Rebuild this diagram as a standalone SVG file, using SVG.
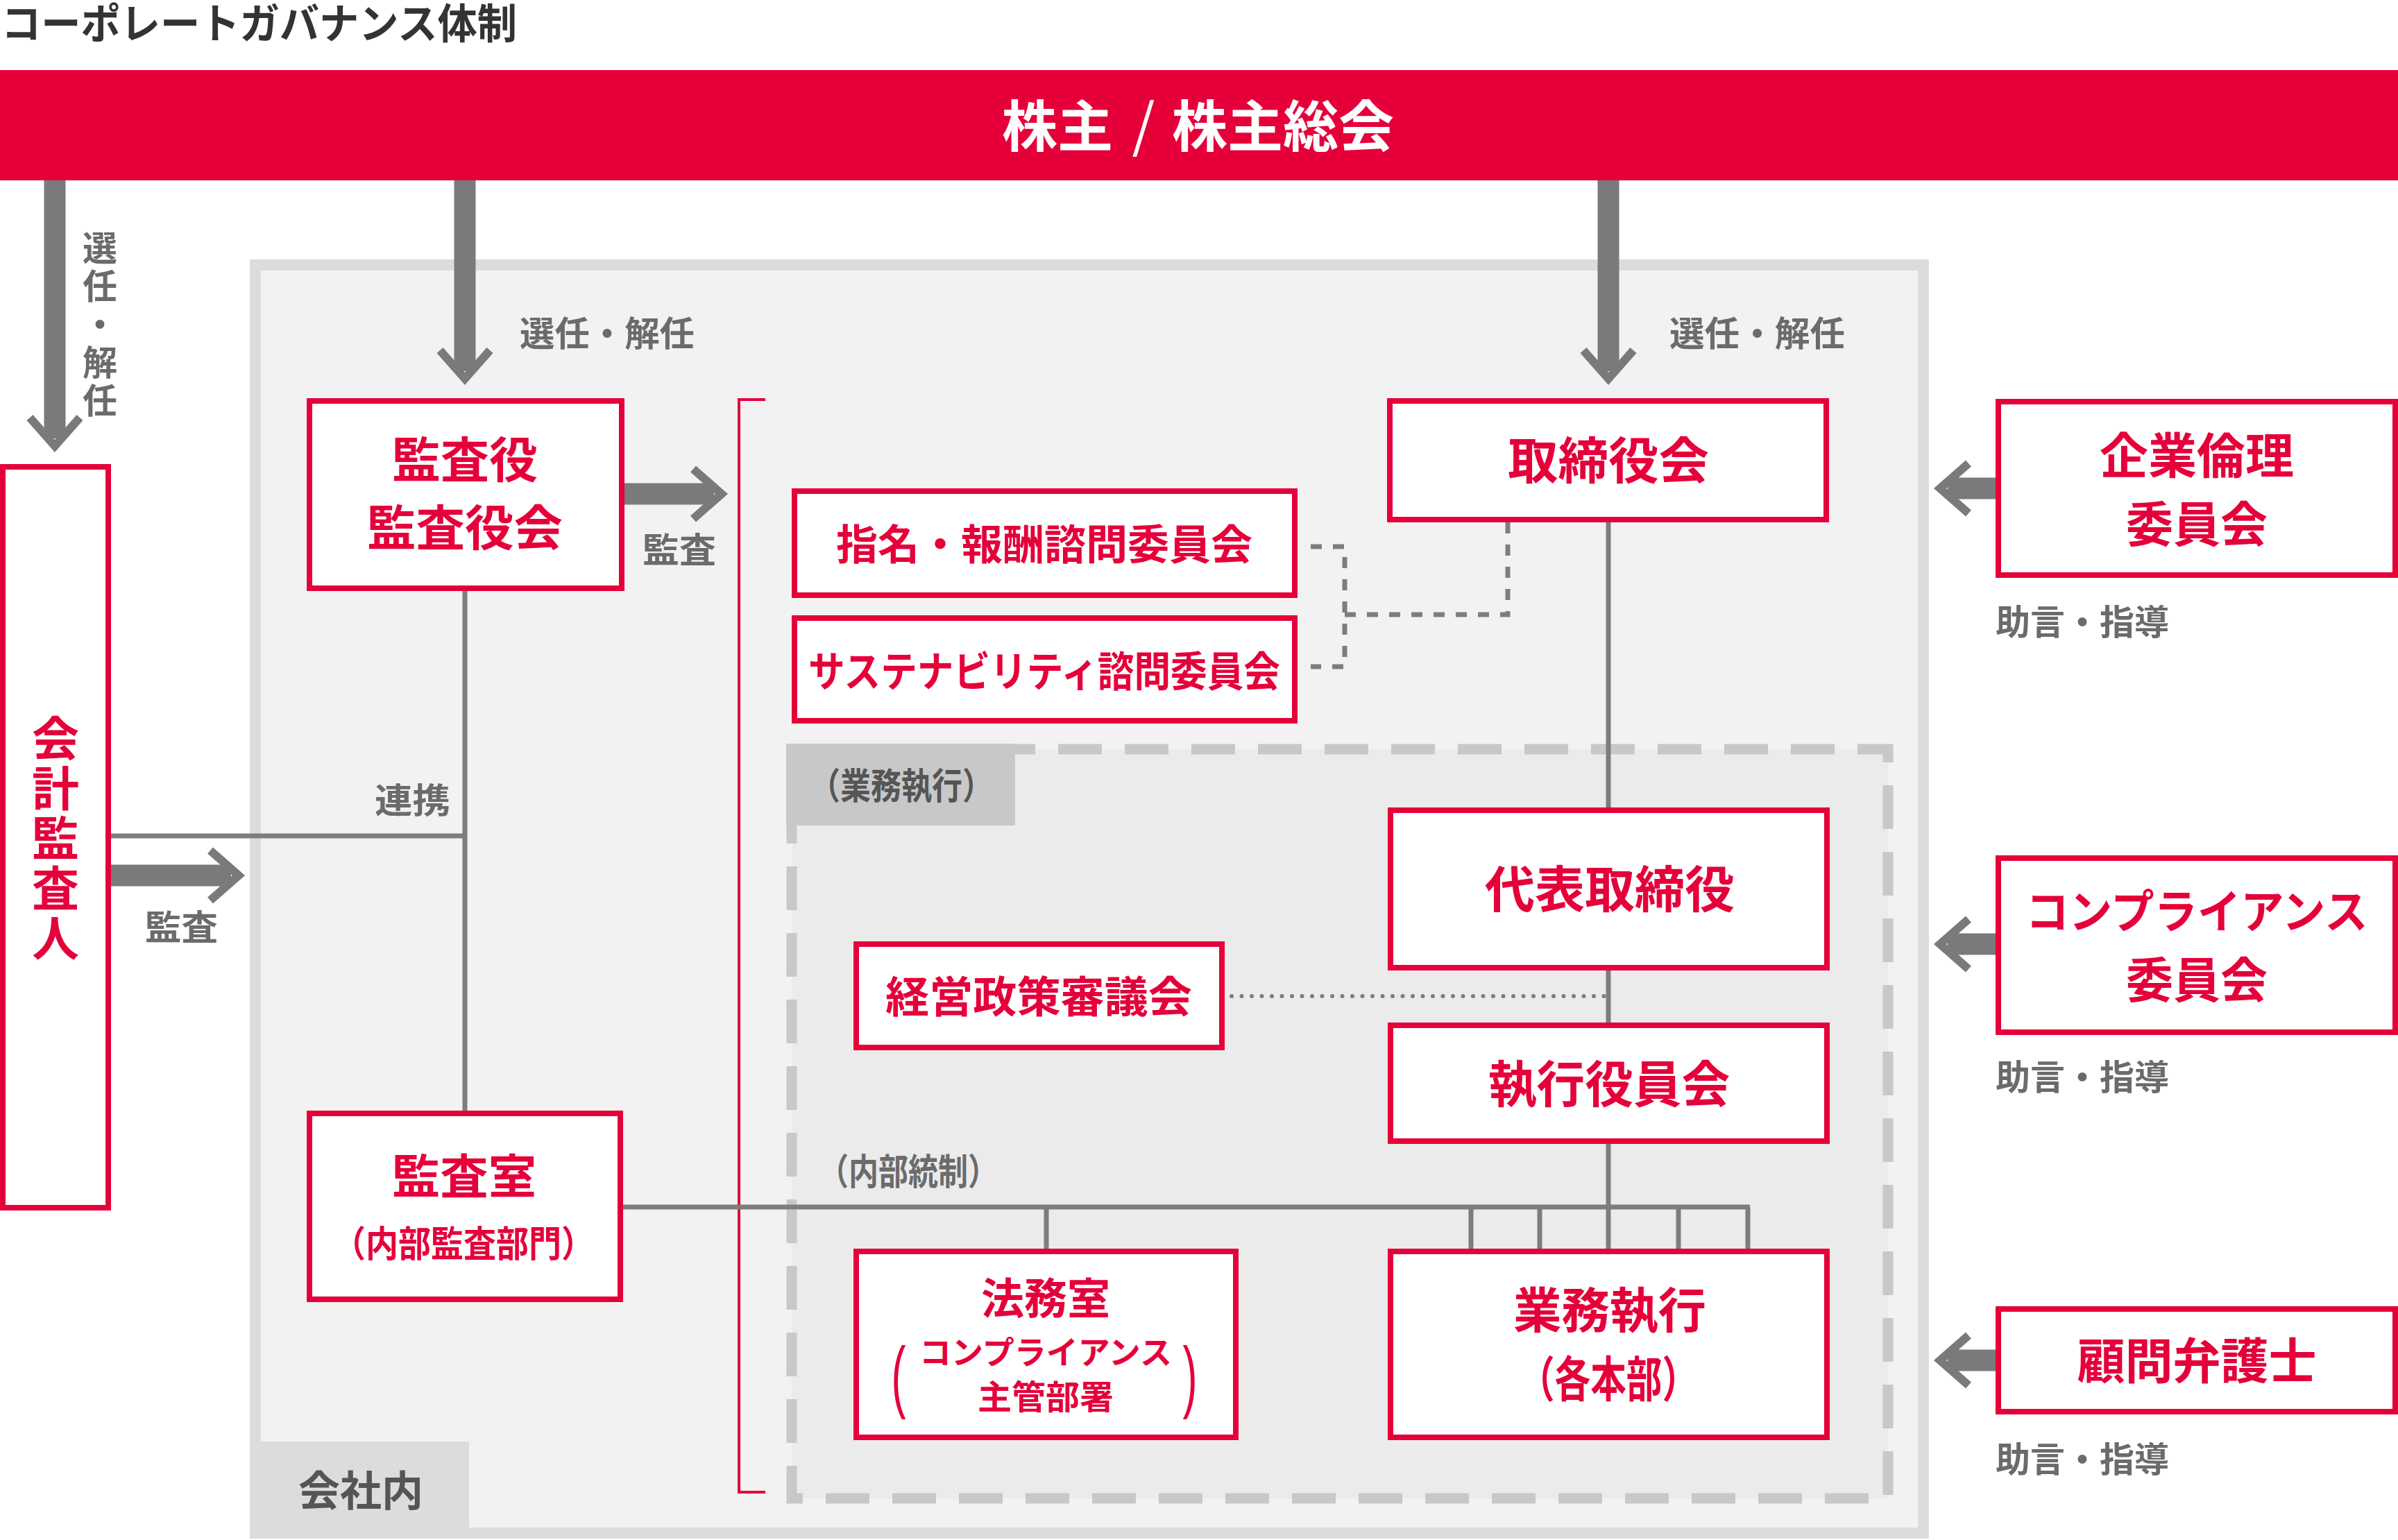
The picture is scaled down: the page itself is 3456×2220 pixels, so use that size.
<svg xmlns="http://www.w3.org/2000/svg" width="3456" height="2220" viewBox="0 0 3456 2220">
<style>
text{font-family:"Noto Sans CJK JP","Noto Sans",sans-serif;}
.node rect{fill:#fff;stroke:#e5003a;stroke-width:8;}
.rt{fill:#e5003a;font-weight:700;text-anchor:middle;}
.gl{fill:#6b6b6b;font-weight:700;font-size:50px;}
.vt{writing-mode:vertical-rl;text-anchor:start;}
.ln{stroke:#7d7d7d;stroke-width:7;fill:none;}
.sh{stroke:#7a7a7a;stroke-width:31;fill:none;}
.hd{stroke:#7a7a7a;stroke-width:12;fill:none;stroke-linejoin:miter;stroke-miterlimit:10;}
.dash{stroke:#7d7d7d;stroke-width:7;fill:none;stroke-dasharray:16 16;}
.par{font-family:"Liberation Sans",sans-serif;font-weight:400;font-size:115px;fill:#e5003a;text-anchor:middle;}
</style>
<rect width="3456" height="2220" fill="#fff"/>
<text x="2" y="56" font-size="60" font-weight="700" fill="#333" textLength="743" lengthAdjust="spacingAndGlyphs">コーポレートガバナンス体制</text>

<g id="shareholders">
<rect x="0" y="101" width="3456" height="159" fill="#e5003a"/>
<text x="1444" y="211" font-size="80" font-weight="700" fill="#fff" textLength="160" lengthAdjust="spacingAndGlyphs">株主</text>
<text x="1648" y="211" font-size="84" font-weight="400" fill="#fff" text-anchor="middle">/</text>
<text x="1689" y="211" font-size="80" font-weight="700" fill="#fff" textLength="320" lengthAdjust="spacingAndGlyphs">株主総会</text>
</g>

<g id="company">
<rect x="368" y="382" width="2404" height="1828" fill="#f2f2f2" stroke="#dcdcdc" stroke-width="16"/>
<rect x="376" y="2078" width="300" height="132" fill="#dcdcdc"/>
<text x="430" y="2171" font-size="60" font-weight="700" fill="#555" textLength="180" lengthAdjust="spacingAndGlyphs">会社内</text>
</g>

<g id="execution-area">
<rect x="1141" y="1080" width="1580" height="1080" fill="#ebebeb" stroke="#c8c8c8" stroke-width="15" stroke-dasharray="63 33"/>
<rect x="1133" y="1072" width="330" height="118" fill="#c8c8c8"/>
<text x="1167" y="1152" font-size="52" font-weight="700" fill="#555" textLength="264" lengthAdjust="spacingAndGlyphs">（業務執行）</text>
<text x="1180" y="1708" font-size="52" font-weight="700" fill="#6b6b6b" textLength="258" lengthAdjust="spacingAndGlyphs">（内部統制）</text>
</g>

<path id="bracket" d="M1103,576 H1065 V2151 H1103" fill="none" stroke="#e5003a" stroke-width="4"/>

<g id="connectors">
<line class="ln" x1="670" y1="852" x2="670" y2="1601"/>
<line class="ln" x1="160" y1="1205" x2="670" y2="1205"/>
<line class="ln" x1="2318" y1="753" x2="2318" y2="1800"/>
<line class="ln" x1="898" y1="1740" x2="2522" y2="1740"/>
<line class="ln" x1="1508" y1="1740" x2="1508" y2="1800"/>
<line class="ln" x1="2120" y1="1740" x2="2120" y2="1800"/>
<line class="ln" x1="2219" y1="1740" x2="2219" y2="1800"/>
<line class="ln" x1="2419" y1="1740" x2="2419" y2="1800"/>
<line class="ln" x1="2519" y1="1740" x2="2519" y2="1800"/>
<line x1="1775" y1="1436" x2="2318" y2="1436" stroke="#7d7d7d" stroke-width="6" stroke-linecap="round" stroke-dasharray="0 14.5"/>
<path class="dash" d="M1889,788 H1938 V961 H1889"/>
<path class="dash" d="M1938,886 H2173 V753"/>

<line class="sh" x1="79" y1="260" x2="79" y2="632"/>
<polyline class="hd" points="43,602 79,643 115,602"/>
<line class="sh" x1="670" y1="260" x2="670" y2="535"/>
<polyline class="hd" points="634,505 670,546 706,505"/>
<line class="sh" x1="2318" y1="260" x2="2318" y2="535"/>
<polyline class="hd" points="2282,505 2318,546 2354,505"/>
<line class="sh" x1="900" y1="712" x2="1029" y2="712"/>
<polyline class="hd" points="999,676 1040,712 999,748"/>
<line class="sh" x1="160" y1="1262" x2="333" y2="1262"/>
<polyline class="hd" points="303,1226 344,1262 303,1298"/>
<line class="sh" x1="2876" y1="704" x2="2807" y2="704"/>
<polyline class="hd" points="2837,668 2796,704 2837,740"/>
<line class="sh" x1="2876" y1="1361" x2="2807" y2="1361"/>
<polyline class="hd" points="2837,1325 2796,1361 2837,1397"/>
<line class="sh" x1="2876" y1="1961" x2="2807" y2="1961"/>
<polyline class="hd" points="2837,1925 2796,1961 2837,1997"/>
</g>

<g id="labels">
<text class="gl vt" x="144" y="332" letter-spacing="5">選任・解任</text>
<text class="gl" x="749" y="499" textLength="252" lengthAdjust="spacingAndGlyphs">選任・解任</text>
<text class="gl" x="2406" y="499" textLength="253" lengthAdjust="spacingAndGlyphs">選任・解任</text>
<text class="gl" x="926" y="811" textLength="106" lengthAdjust="spacingAndGlyphs">監査</text>
<text class="gl" x="540" y="1172" textLength="109" lengthAdjust="spacingAndGlyphs">連携</text>
<text class="gl" x="209" y="1355" textLength="105" lengthAdjust="spacingAndGlyphs">監査</text>
<text class="gl" x="2876" y="915" textLength="250" lengthAdjust="spacingAndGlyphs">助言・指導</text>
<text class="gl" x="2876" y="1571" textLength="250" lengthAdjust="spacingAndGlyphs">助言・指導</text>
<text class="gl" x="2876" y="2122" textLength="250" lengthAdjust="spacingAndGlyphs">助言・指導</text>
</g>

<g id="accounting-auditor" class="node">
<rect x="4" y="673" width="152" height="1068"/>
<text class="vt" x="80" y="1030" font-size="68" font-weight="700" fill="#e5003a" letter-spacing="4">会計監査人</text>
</g>

<g id="auditors" class="node">
<rect x="446" y="578" width="450" height="270"/>
<text class="rt" x="670" y="689" font-size="70" textLength="210" lengthAdjust="spacingAndGlyphs">監査役</text>
<text class="rt" x="670" y="787" font-size="70" textLength="282" lengthAdjust="spacingAndGlyphs">監査役会</text>
</g>

<g id="board" class="node">
<rect x="2003" y="578" width="629" height="171"/>
<text class="rt" x="2318" y="690" font-size="72" textLength="290" lengthAdjust="spacingAndGlyphs">取締役会</text>
</g>

<g id="nomination" class="node">
<rect x="1145" y="708" width="721" height="150"/>
<text class="rt" x="1505" y="807" font-size="60" textLength="600" lengthAdjust="spacingAndGlyphs">指名・報酬諮問委員会</text>
</g>

<g id="sustainability" class="node">
<rect x="1145" y="891" width="721" height="148"/>
<text class="rt" x="1505" y="990" font-size="60" textLength="680" lengthAdjust="spacingAndGlyphs">サステナビリティ諮問委員会</text>
</g>

<g id="representative" class="node">
<rect x="2004" y="1168" width="629" height="227"/>
<text class="rt" x="2320" y="1308" font-size="72" textLength="360" lengthAdjust="spacingAndGlyphs">代表取締役</text>
</g>

<g id="policy-council" class="node">
<rect x="1234" y="1361" width="527" height="149"/>
<text class="rt" x="1497" y="1460" font-size="62" textLength="442" lengthAdjust="spacingAndGlyphs">経営政策審議会</text>
</g>

<g id="executive-officers" class="node">
<rect x="2004" y="1478" width="629" height="167"/>
<text class="rt" x="2319" y="1589" font-size="72" textLength="348" lengthAdjust="spacingAndGlyphs">執行役員会</text>
</g>

<g id="audit-office" class="node">
<rect x="446" y="1605" width="448" height="268"/>
<text class="rt" x="669" y="1721" font-size="68" textLength="208" lengthAdjust="spacingAndGlyphs">監査室</text>
<text class="rt" x="668" y="1812" font-size="52" textLength="376" lengthAdjust="spacingAndGlyphs">（内部監査部門）</text>
</g>

<g id="legal-office" class="node">
<rect x="1234" y="1804" width="547" height="268"/>
<text class="rt" x="1507" y="1895" font-size="62" textLength="186" lengthAdjust="spacingAndGlyphs">法務室</text>
<text class="rt" x="1507" y="1966" font-size="46" textLength="364" lengthAdjust="spacingAndGlyphs">コンプライアンス</text>
<text class="rt" x="1507" y="2031" font-size="48" textLength="196" lengthAdjust="spacingAndGlyphs">主管部署</text>
<text class="par" transform="translate(1295,2022) scale(0.55,1)" x="0" y="0">(</text>
<text class="par" transform="translate(1715,2022) scale(0.55,1)" x="0" y="0">)</text>
</g>

<g id="business-units" class="node">
<rect x="2004" y="1804" width="629" height="268"/>
<text class="rt" x="2320" y="1915" font-size="70" textLength="278" lengthAdjust="spacingAndGlyphs">業務執行</text>
<text class="rt" x="2318" y="2014" font-size="70" textLength="258" lengthAdjust="spacingAndGlyphs">（各本部）</text>
</g>

<g id="ethics-committee" class="node">
<rect x="2880" y="579" width="572" height="250"/>
<text class="rt" x="3166" y="683" font-size="70" textLength="280" lengthAdjust="spacingAndGlyphs">企業倫理</text>
<text class="rt" x="3166" y="782" font-size="70" textLength="204" lengthAdjust="spacingAndGlyphs">委員会</text>
</g>

<g id="compliance-committee" class="node">
<rect x="2880" y="1237" width="572" height="251"/>
<text class="rt" x="3166" y="1338" font-size="66" textLength="493" lengthAdjust="spacingAndGlyphs">コンプライアンス</text>
<text class="rt" x="3166" y="1439" font-size="70" textLength="204" lengthAdjust="spacingAndGlyphs">委員会</text>
</g>

<g id="legal-counsel" class="node">
<rect x="2880" y="1887" width="572" height="148"/>
<text class="rt" x="3166" y="1988" font-size="70" textLength="345" lengthAdjust="spacingAndGlyphs">顧問弁護士</text>
</g>
</svg>
